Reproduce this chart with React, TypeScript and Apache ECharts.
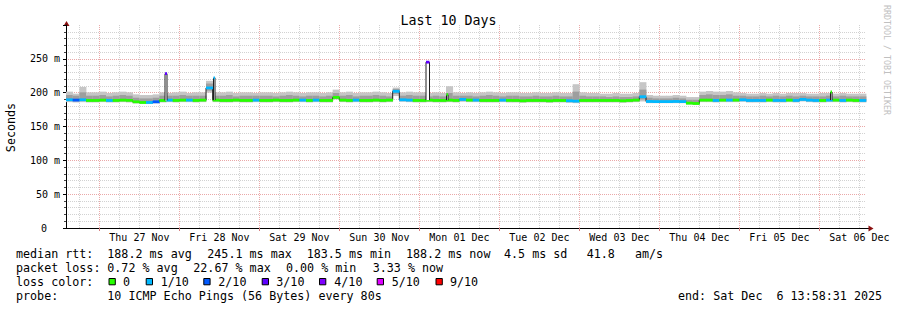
import React, { useEffect, useRef } from "react";
import * as echarts from "echarts";

const HOUR = 3600000;
const START = Date.UTC(2025, 10, 26, 13, 58, 31);
const END = Date.UTC(2025, 11, 6, 13, 58, 31);
const STEP = 2 * HOUR;

// median rtt per 2-hour sample (ms)
const median = [
  189.5, 189, 189.5, 188.5, 188.5, 189, 188.5, 188.5, 189, 188.5,
  186.5, 185.5, 185.5, 186.5, 188.5, 189, 188.5, 189, 189, 188.5,
  189, 207, 189, 188.5, 188.5, 189, 188.5, 188.5, 189, 188.5,
  188.5, 189, 188.5, 188.5, 189, 189, 188.5, 189, 188.5, 188.5,
  193, 189, 188.5, 189, 188.5, 188.5, 189, 188.5, 189, 202,
  189.5, 189, 188.5, 188.5, 189, 188.5, 188.5, 189, 188.5, 190,
  189, 189, 188.5, 188.5, 188.5, 189, 188.5, 188.5, 188, 188.5,
  188.5, 188.5, 188, 188.5, 188.5, 188, 187.5, 188.5, 188.5, 188.5,
  188.5, 188.5, 188.5, 188, 188.5, 189, 194, 187, 186.8, 186.8,
  186.8, 187, 186.8, 184.5, 184, 189, 189, 188.5, 189, 189,
  189, 189.5, 188.5, 188.5, 188.5, 189, 188.5, 188.5, 189, 188.5,
  190, 189, 188.5, 188.5, 189, 189, 188.5, 189, 188.5, 188.5,
];

// lost pings out of 10 per sample
const loss = [
  1, 2, 1, 0, 0, 0, 1, 0, 0, 0,
  0, 0, 1, 2, 0, 1, 0, 0, 1, 0,
  0, 1, 0, 0, 0, 0, 0, 0, 1, 0,
  0, 0, 0, 0, 0, 1, 0, 1, 0, 0,
  0, 0, 0, 1, 0, 0, 0, 0, 0, 1,
  1, 1, 0, 0, 0, 0, 0, 0, 0, 1,
  0, 1, 0, 0, 0, 1, 0, 0, 0, 0,
  0, 0, 0, 0, 0, 1, 1, 0, 0, 0,
  0, 0, 0, 0, 0, 0, 1, 1, 1, 1,
  1, 1, 1, 0, 0, 0, 0, 1, 0, 1,
  0, 1, 1, 1, 1, 0, 1, 1, 0, 1,
  1, 1, 1, 0, 1, 0, 1, 0, 0, 1,
];

// smoke: lowest ping, lower inner, upper inner, highest ping (ms)
const smokeMin = [
  186, 185.5, 186, 185.5, 185.5, 186, 185.5, 185.5, 186, 185.5,
  184, 183.5, 183.5, 184, 185.5, 186, 185.5, 186, 186, 185.5,
  186, 200, 186, 185.5, 185.5, 186, 185.5, 185.5, 186, 185.5,
  185.5, 186, 185.5, 185.5, 186, 186, 185.5, 186, 185.5, 185.5,
  190, 186, 185.5, 186, 185.5, 185.5, 186, 185.5, 186, 195,
  186.5, 186, 185.5, 185.5, 186, 185.5, 185.5, 186, 185.5, 186.5,
  186, 186, 185.5, 185.5, 185.5, 186, 185.5, 185.5, 185, 185.5,
  185.5, 185.5, 185, 185.5, 185.5, 185, 184.5, 185.5, 185.5, 185.5,
  185.5, 185.5, 185.5, 185, 185.5, 186, 187, 184.5, 184.5, 184.5,
  184.5, 184.5, 184.5, 182.5, 182, 186, 186, 185.5, 186, 186,
  186, 186.5, 185.5, 185.5, 185.5, 186, 185.5, 185.5, 186, 185.5,
  187, 186, 185.5, 185.5, 186, 186, 185.5, 186, 185.5, 185.5,
];
const smokeLo = [
  188, 187.5, 188, 187, 187, 187.5, 187, 187, 187.5, 187,
  185, 184.5, 184.5, 185, 187, 187.5, 187, 187.5, 187.5, 187,
  187.5, 203, 187.5, 187, 187, 187.5, 187, 187, 187.5, 187,
  187, 187.5, 187, 187, 187.5, 187.5, 187, 187.5, 187, 187,
  191, 187.5, 187, 187.5, 187, 187, 187.5, 187, 187.5, 198,
  188, 187.5, 187, 187, 187.5, 187, 187, 187.5, 187, 188,
  187.5, 187.5, 187, 187, 187, 187.5, 187, 187, 186.5, 187,
  187, 187, 186.5, 187, 187, 186.5, 186, 187, 187, 187,
  187, 187, 187, 186.5, 187, 187.5, 190, 185.5, 185.5, 185.5,
  185.5, 185.5, 185.5, 183.5, 183, 187.5, 187.5, 187, 187.5, 187.5,
  187.5, 188, 187, 187, 187, 187.5, 187, 187, 187.5, 187,
  188.5, 187.5, 187, 187, 187.5, 187.5, 187, 187.5, 187, 187,
];
const smokeHi = [
  196.5, 195.5, 200.5, 195.5, 195.5, 196.5, 194.5, 195.5, 196.5, 195.5,
  192.5, 191.5, 191.5, 192.5, 195.5, 195.5, 195.5, 196.5, 195.5, 195.5,
  195.5, 213.5, 195.5, 195.5, 196.5, 194.5, 195.5, 195.5, 195.5, 195.5,
  195.5, 194.5, 195.5, 196.5, 195.5, 194.5, 195.5, 195.5, 194.5, 195.5,
  199.5, 195.5, 196.5, 194.5, 195.5, 195.5, 196.5, 195.5, 194.5, 205.5,
  195.5, 196.5, 195.5, 195.5, 194.5, 195.5, 194.5, 199.5, 195.5, 195.5,
  195.5, 194.5, 195.5, 196.5, 195.5, 194.5, 195.5, 195.5, 194.5, 194.5,
  195.5, 194.5, 194.5, 195.5, 194.5, 194.5, 201.5, 195.5, 194.5, 194.5,
  194.5, 193.5, 194.5, 193.5, 193.5, 194.5, 204.5, 192.5, 191.5, 191.5,
  191.5, 192.5, 191.5, 189.5, 189.5, 196.5, 197.5, 196.5, 196.5, 197.5,
  195.5, 195.5, 194.5, 194.5, 195.5, 194.5, 195.5, 194.5, 195.5, 194.5,
  195.5, 194.5, 194.5, 194.5, 195.5, 194.5, 195.5, 194.5, 194.5, 194.5,
];
const smokeMax = [
  201.5, 198.5, 208.5, 200.5, 200.5, 201.5, 199.5, 200.5, 201.5, 200.5,
  197.5, 196.5, 196.5, 197.5, 200.5, 199.5, 200.5, 201.5, 199.5, 200.5,
  200.5, 217.5, 200.5, 200.5, 201.5, 199.5, 200.5, 200.5, 199.5, 200.5,
  200.5, 199.5, 200.5, 201.5, 200.5, 199.5, 200.5, 200.5, 199.5, 200.5,
  204.5, 200.5, 201.5, 199.5, 200.5, 200.5, 201.5, 200.5, 199.5, 207.5,
  200.5, 201.5, 200.5, 200.5, 199.5, 200.5, 199.5, 209.5, 200.5, 199.5,
  200.5, 199.5, 200.5, 201.5, 200.5, 199.5, 200.5, 200.5, 199.5, 199.5,
  200.5, 199.5, 199.5, 200.5, 199.5, 199.5, 212.5, 200.5, 199.5, 199.5,
  198.5, 198.5, 199.5, 198.5, 198.5, 199.5, 215.5, 196.5, 195.5, 195.5,
  195.5, 196.5, 195.5, 193.5, 193.5, 201.5, 202.5, 201.5, 201.5, 202.5,
  200.5, 199.5, 198.5, 198.5, 199.5, 198.5, 199.5, 198.5, 199.5, 199.5,
  199.5, 198.5, 198.5, 199.5, 199.5, 198.5, 199.5, 198.5, 198.5, 198.5,
];

// short spikes: start (hours after start), length (hours), value (ms), loss
const spikeStartHours = [29.7, 44.25, 108, 114.15, 229.35];
const spikeLenHours = [0.6, 0.45, 1.05, 0.45, 0.45];
const spikeValue = [228, 222, 245.1, 197, 201];
const spikeLoss = [3, 1, 3, 0, 0];

const lossLabels = ["0", "1/10", "2/10", "3/10", "4/10", "5/10", "9/10"];
const lossColors = ["#26ff00", "#00b8ff", "#0059ff", "#5e00ff", "#7e00ff", "#dd00ff", "#ff0000"];

const rttStats = ["188.2 ms avg", "245.1 ms max", "183.5 ms min", "188.2 ms now", "4.5 ms sd", "41.8", "am/s"];
const lossStats = ["0.72 % avg", "22.67 % max", "0.00 % min", "3.33 % now"];
const probeText = "10 ICMP Echo Pings (56 Bytes) every 80s";
const endText = "end: Sat Dec  6 13:58:31 2025";

const DAYS = ["Sun", "Mon", "Tue", "Wed", "Thu", "Fri", "Sat"];
const MONTHS = ["Jan", "Feb", "Mar", "Apr", "May", "Jun", "Jul", "Aug", "Sep", "Oct", "Nov", "Dec"];

const MONO = "'DejaVu Sans Mono', monospace";

function fmtDay(v: number) {
  const d = new Date(v);
  return `${DAYS[d.getUTCDay()]} ${String(d.getUTCDate()).padStart(2, "0")} ${MONTHS[d.getUTCMonth()]}`;
}

function buildOption() {
  const midnights: number[] = [];
  const noons: number[] = [];
  for (let k = 0; k < 10; k++) {
    midnights.push(Date.UTC(2025, 10, 27 + k));
    noons.push(Date.UTC(2025, 10, 27 + k, 12));
  }
  const vGrid: number[][] = [];
  for (let t = Date.UTC(2025, 10, 26, 18); t < END; t += 6 * HOUR) {
    vGrid.push([t, new Date(t).getUTCHours() === 0 ? 1 : 0]);
  }

  const smokeData = median.map((_, i) => [
    START + i * STEP, START + (i + 1) * STEP, smokeMin[i], smokeLo[i], smokeHi[i], smokeMax[i],
  ]);
  const lineData = median.map((m, i) => [START + i * STEP, START + (i + 1) * STEP, m, i > 0 ? median[i - 1] : m]);
  const boxData = median.map((m, i) => [START + i * STEP, START + (i + 1) * STEP, m, loss[i]]);
  const spikeData = spikeStartHours.map((h, k) => [
    START + h * HOUR, START + (h + spikeLenHours[k]) * HOUR,
    median[Math.floor(h / 2)], spikeValue[k], spikeLoss[k],
  ]);

  const txt = (text: string, x: number, y: number, extra: any = {}) => ({
    type: "text", x, y, silent: true,
    style: { text, fontFamily: MONO, fontSize: 11.7, fill: "#000", align: "left", verticalAlign: "middle", ...extra },
  });

  const rttX = [107.3, 207.3, 306.7, 406, 504, 586.7, 635];
  const lossX = [107.3, 193.3, 286, 372.7];
  const boxX = [108.5, 145.7, 203.3, 261.7, 319, 376.7, 435.5];
  const boxTextX = [123, 160.7, 218.3, 276.3, 334.3, 391.7, 450];

  const elements: any[] = [];
  elements.push({ ...txt("Seconds", 11, 127.5, { align: "center" }), rotation: Math.PI / 2 });
  elements.push({
    type: "text", x: 886.5, y: 60, rotation: -Math.PI / 2, silent: true,
    style: { text: "RRDTOOL / TOBI OETIKER", fontFamily: MONO, fontSize: 8.3, fill: "#c0c0c0", align: "center", verticalAlign: "middle" },
  });
  elements.push(txt("median rtt:", 16, 254.3));
  rttStats.forEach((s, i) => elements.push(txt(s, rttX[i], 254.3)));
  elements.push(txt("packet loss:", 16, 268.3));
  lossStats.forEach((s, i) => elements.push(txt(s, lossX[i], 268.3)));
  elements.push(txt("loss color:", 16, 282.3));
  lossLabels.forEach((s, i) => {
    elements.push({
      type: "rect", silent: true,
      shape: { x: boxX[i] + 0.5, y: 278.5, width: 6.3, height: 6.3 },
      style: { fill: lossColors[i], stroke: "#000", lineWidth: 1 },
    });
    elements.push(txt(s, boxTextX[i], 282.3));
  });
  elements.push(txt("probe:", 16, 296.3));
  elements.push(txt(probeText, 107.3, 296.3));
  elements.push(txt(endText, 678, 296.3));
  // axis extensions and arrows
  elements.push({ type: "line", silent: true, shape: { x1: 866, y1: 228.5, x2: 869, y2: 228.5 }, style: { stroke: "#000", lineWidth: 1 } });
  elements.push({ type: "line", silent: true, shape: { x1: 66.5, y1: 25, x2: 66.5, y2: 22 }, style: { stroke: "#000", lineWidth: 1 } });
  elements.push({ type: "polygon", silent: true, shape: { points: [[868.5, 225.5], [873.5, 228.5], [868.5, 231.5]] }, style: { fill: "#8b1010" } });
  elements.push({ type: "polygon", silent: true, shape: { points: [[63.5, 26], [66.5, 21], [69.5, 26]] }, style: { fill: "#8b1010" } });

  const xOf = (api: any, v: number) => api.coord([v, 0])[0];
  const yOf = (api: any, v: number) => api.coord([START, v])[1];

  return {
    animation: false,
    backgroundColor: "#ffffff",
    title: {
      text: "Last 10 Days", left: "center", top: 9,
      textStyle: { fontFamily: MONO, fontSize: 13.3, fontWeight: "normal", color: "#000" },
    },
    grid: { left: 66, top: 25, width: 800, height: 203 },
    xAxis: {
      type: "value", min: START, max: END,
      splitLine: { show: false },
      axisLine: { lineStyle: { color: "#000", width: 1 } },
      axisTick: { show: true, customValues: midnights, length: 3, lineStyle: { color: "#d88080" } },
      axisLabel: { customValues: noons, formatter: fmtDay, fontFamily: MONO, fontSize: 10, color: "#000", margin: 4 },
    },
    yAxis: {
      type: "value", min: 0, max: 300, interval: 50,
      axisLine: { show: true, lineStyle: { color: "#000", width: 1 } },
      axisTick: { show: true, length: 3, lineStyle: { color: "#000" } },
      minorTick: { show: true, splitNumber: 5, length: 2, lineStyle: { color: "#444" } },
      axisLabel: {
        showMaxLabel: false,
        formatter: (v: number) => (v === 0 ? "{z|0}" : `${v} m`),
        fontFamily: MONO, fontSize: 10, color: "#000", margin: 6,
        rich: { z: { fontFamily: MONO, fontSize: 10, color: "#000", padding: [0, 13, 0, 0] } },
      },
      splitLine: { show: true, showMaxLine: false, lineStyle: { color: "#eaa8a8", type: [1, 1] } },
      minorSplitLine: { show: true, lineStyle: { color: "#d2d2d2", type: [1, 1] } },
    },
    graphic: { elements },
    series: [
      {
        type: "custom", name: "grid", silent: true, data: vGrid, encode: { x: 0, y: 1 },
        renderItem: (_p: any, api: any) => {
          const x = Math.floor(xOf(api, api.value(0))) + 0.5;
          return {
            type: "line",
            shape: { x1: x, y1: yOf(api, 0), x2: x, y2: yOf(api, 300) },
            style: { stroke: api.value(1) ? "#eaa8a8" : "#d2d2d2", lineWidth: 1, lineDash: [1, 1] },
          };
        },
      },
      {
        type: "custom", name: "smoke", silent: true, data: smokeData, encode: { x: [0, 1], y: [2, 5] },
        renderItem: (_p: any, api: any) => {
          const x0 = xOf(api, api.value(0));
          const x1 = xOf(api, api.value(1));
          const yMin = yOf(api, api.value(2));
          const yLo = yOf(api, api.value(3));
          const yHi = yOf(api, api.value(4));
          const yMax = yOf(api, api.value(5));
          return {
            type: "group",
            children: [
              { type: "rect", shape: { x: x0, y: yMax, width: x1 - x0 + 0.4, height: yMin - yMax }, style: { fill: "#c6c6c6" } },
              { type: "rect", shape: { x: x0, y: yHi, width: x1 - x0 + 0.4, height: yLo - yHi }, style: { fill: "#9e9e9e" } },
            ],
          };
        },
      },
      {
        type: "custom", name: "median line", silent: true, data: lineData, encode: { x: [0, 1], y: 2 },
        renderItem: (_p: any, api: any) => {
          const x0 = xOf(api, api.value(0));
          const x1 = xOf(api, api.value(1));
          const y = yOf(api, api.value(2));
          const yp = yOf(api, api.value(3));
          return {
            type: "group",
            children: [
              { type: "line", shape: { x1: x0, y1: y, x2: x1, y2: y }, style: { stroke: "#202020", lineWidth: 1 } },
              { type: "line", shape: { x1: x0, y1: yp, x2: x0, y2: y }, style: { stroke: "#202020", lineWidth: 1 } },
            ],
          };
        },
      },
      {
        type: "custom", name: "median loss", silent: true, data: boxData, encode: { x: [0, 1], y: 2 },
        renderItem: (_p: any, api: any) => {
          const x0 = xOf(api, api.value(0));
          const x1 = xOf(api, api.value(1));
          const y = yOf(api, api.value(2));
          return {
            type: "rect",
            shape: { x: x0, y: y - 1.4, width: x1 - x0 + 0.3, height: 2.8 },
            style: { fill: lossColors[api.value(3)] },
          };
        },
      },
      {
        type: "custom", name: "spikes", silent: true, data: spikeData, encode: { x: [0, 1], y: [2, 3] },
        renderItem: (_p: any, api: any) => {
          const xs = xOf(api, api.value(0));
          const xe = xOf(api, api.value(1));
          const yb = yOf(api, api.value(2));
          const yt = yOf(api, api.value(3));
          return {
            type: "group",
            children: [
              { type: "rect", shape: { x: xs, y: yt, width: xe - xs, height: yb - yt }, style: { fill: "#ffffff" } },
              { type: "line", shape: { x1: xs, y1: yb, x2: xs, y2: yt }, style: { stroke: "#202020", lineWidth: 1 } },
              { type: "line", shape: { x1: xe, y1: yt, x2: xe, y2: yb }, style: { stroke: "#202020", lineWidth: 1 } },
              { type: "rect", shape: { x: xs, y: yt - 1.4, width: xe - xs, height: 2.8 }, style: { fill: lossColors[api.value(4)] } },
            ],
          };
        },
      },
    ],
  };
}

export default function App() {
  const ref = useRef<HTMLDivElement>(null);
  useEffect(() => {
    const chart = echarts.init(ref.current!, null, { renderer: "svg" });
    chart.setOption(buildOption() as any);
    return () => chart.dispose();
  }, []);
  return (
    <div
      ref={ref}
      style={{ position: "absolute", left: 0, top: 0, width: 897, height: 310, background: "#fff" }}
    />
  );
}
